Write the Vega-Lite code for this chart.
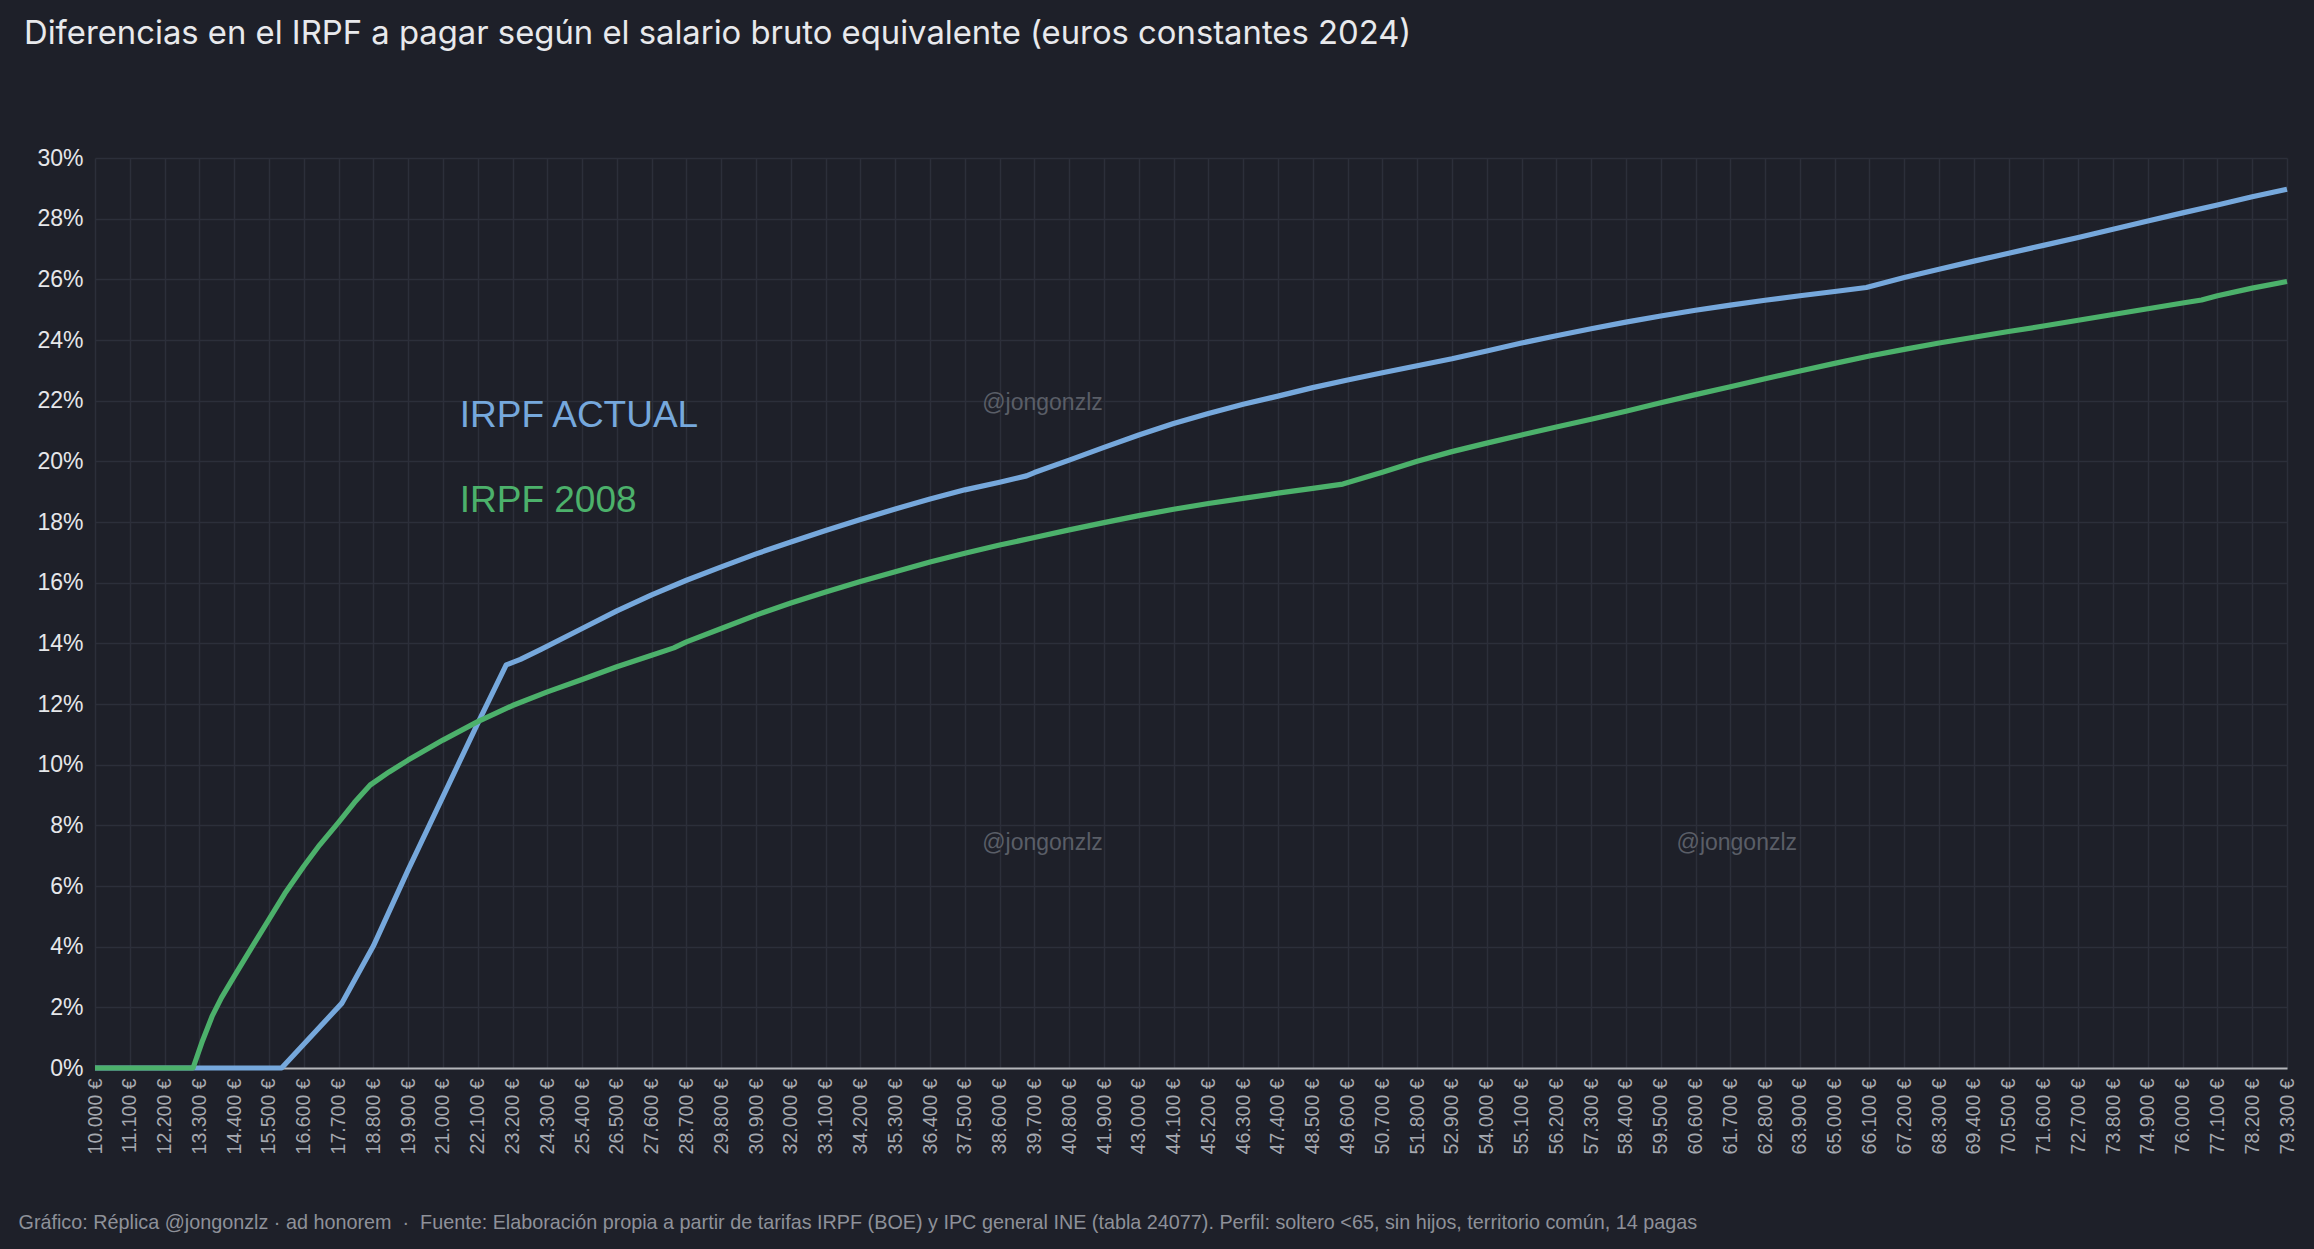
{
  "$schema": "https://vega.github.io/schema/vega-lite/v6.json",
  "width": 2192,
  "height": 910,
  "autosize": {"type": "none"},
  "padding": {"left": 95, "top": 158, "right": 27, "bottom": 181},
  "background": "#1e2029",
  "title": {
    "text": "Diferencias en el IRPF a pagar según el salario bruto equivalente (euros constantes 2024)",
    "anchor": "start",
    "frame": "group",
    "orient": "top",
    "dx": -71,
    "offset": 70,
    "baseline": "alphabetic",
    "font": "Inter",
    "fontSize": 32.8,
    "fontWeight": "normal",
    "color": "#e8e9ec"
  },
  "config": {
    "view": {"stroke": null},
    "axis": {"gridColor": "#2c2f3a", "gridWidth": 1.5, "ticks": false, "labelFont": "Liberation Sans", "titleFont": "Liberation Sans"}
  },
  "datasets": {
    "lines": [
      {"salario": 10000, "pct": 0, "serie": "IRPF ACTUAL"},
      {"salario": 15900, "pct": 0, "serie": "IRPF ACTUAL"},
      {"salario": 17800, "pct": 2.13, "serie": "IRPF ACTUAL"},
      {"salario": 18800, "pct": 4.02, "serie": "IRPF ACTUAL"},
      {"salario": 19900, "pct": 6.53, "serie": "IRPF ACTUAL"},
      {"salario": 21000, "pct": 8.95, "serie": "IRPF ACTUAL"},
      {"salario": 22100, "pct": 11.36, "serie": "IRPF ACTUAL"},
      {"salario": 23000, "pct": 13.29, "serie": "IRPF ACTUAL"},
      {"salario": 23450, "pct": 13.47, "serie": "IRPF ACTUAL"},
      {"salario": 24100, "pct": 13.8, "serie": "IRPF ACTUAL"},
      {"salario": 25400, "pct": 14.49, "serie": "IRPF ACTUAL"},
      {"salario": 26500, "pct": 15.07, "serie": "IRPF ACTUAL"},
      {"salario": 27600, "pct": 15.6, "serie": "IRPF ACTUAL"},
      {"salario": 28700, "pct": 16.08, "serie": "IRPF ACTUAL"},
      {"salario": 29800, "pct": 16.52, "serie": "IRPF ACTUAL"},
      {"salario": 30900, "pct": 16.95, "serie": "IRPF ACTUAL"},
      {"salario": 32000, "pct": 17.34, "serie": "IRPF ACTUAL"},
      {"salario": 33100, "pct": 17.72, "serie": "IRPF ACTUAL"},
      {"salario": 34200, "pct": 18.08, "serie": "IRPF ACTUAL"},
      {"salario": 35300, "pct": 18.43, "serie": "IRPF ACTUAL"},
      {"salario": 36400, "pct": 18.76, "serie": "IRPF ACTUAL"},
      {"salario": 37500, "pct": 19.06, "serie": "IRPF ACTUAL"},
      {"salario": 38600, "pct": 19.31, "serie": "IRPF ACTUAL"},
      {"salario": 39450, "pct": 19.52, "serie": "IRPF ACTUAL"},
      {"salario": 39700, "pct": 19.63, "serie": "IRPF ACTUAL"},
      {"salario": 40800, "pct": 20.04, "serie": "IRPF ACTUAL"},
      {"salario": 41900, "pct": 20.46, "serie": "IRPF ACTUAL"},
      {"salario": 43000, "pct": 20.87, "serie": "IRPF ACTUAL"},
      {"salario": 44100, "pct": 21.25, "serie": "IRPF ACTUAL"},
      {"salario": 45200, "pct": 21.58, "serie": "IRPF ACTUAL"},
      {"salario": 46300, "pct": 21.88, "serie": "IRPF ACTUAL"},
      {"salario": 47400, "pct": 22.15, "serie": "IRPF ACTUAL"},
      {"salario": 48500, "pct": 22.43, "serie": "IRPF ACTUAL"},
      {"salario": 49600, "pct": 22.68, "serie": "IRPF ACTUAL"},
      {"salario": 50700, "pct": 22.92, "serie": "IRPF ACTUAL"},
      {"salario": 51800, "pct": 23.15, "serie": "IRPF ACTUAL"},
      {"salario": 52900, "pct": 23.38, "serie": "IRPF ACTUAL"},
      {"salario": 54000, "pct": 23.64, "serie": "IRPF ACTUAL"},
      {"salario": 55100, "pct": 23.9, "serie": "IRPF ACTUAL"},
      {"salario": 56200, "pct": 24.14, "serie": "IRPF ACTUAL"},
      {"salario": 57300, "pct": 24.37, "serie": "IRPF ACTUAL"},
      {"salario": 58400, "pct": 24.59, "serie": "IRPF ACTUAL"},
      {"salario": 59500, "pct": 24.79, "serie": "IRPF ACTUAL"},
      {"salario": 60600, "pct": 24.98, "serie": "IRPF ACTUAL"},
      {"salario": 61700, "pct": 25.15, "serie": "IRPF ACTUAL"},
      {"salario": 62800, "pct": 25.31, "serie": "IRPF ACTUAL"},
      {"salario": 63900, "pct": 25.46, "serie": "IRPF ACTUAL"},
      {"salario": 65000, "pct": 25.6, "serie": "IRPF ACTUAL"},
      {"salario": 66000, "pct": 25.73, "serie": "IRPF ACTUAL"},
      {"salario": 67200, "pct": 26.06, "serie": "IRPF ACTUAL"},
      {"salario": 68300, "pct": 26.33, "serie": "IRPF ACTUAL"},
      {"salario": 69400, "pct": 26.6, "serie": "IRPF ACTUAL"},
      {"salario": 70500, "pct": 26.86, "serie": "IRPF ACTUAL"},
      {"salario": 71600, "pct": 27.12, "serie": "IRPF ACTUAL"},
      {"salario": 72700, "pct": 27.38, "serie": "IRPF ACTUAL"},
      {"salario": 73800, "pct": 27.65, "serie": "IRPF ACTUAL"},
      {"salario": 74900, "pct": 27.92, "serie": "IRPF ACTUAL"},
      {"salario": 76000, "pct": 28.19, "serie": "IRPF ACTUAL"},
      {"salario": 77100, "pct": 28.45, "serie": "IRPF ACTUAL"},
      {"salario": 78200, "pct": 28.72, "serie": "IRPF ACTUAL"},
      {"salario": 79300, "pct": 28.97, "serie": "IRPF ACTUAL"},
      {"salario": 10000, "pct": 0, "serie": "IRPF 2008"},
      {"salario": 13100, "pct": 0, "serie": "IRPF 2008"},
      {"salario": 13400, "pct": 0.9, "serie": "IRPF 2008"},
      {"salario": 13700, "pct": 1.7, "serie": "IRPF 2008"},
      {"salario": 14000, "pct": 2.32, "serie": "IRPF 2008"},
      {"salario": 14400, "pct": 3.02, "serie": "IRPF 2008"},
      {"salario": 15000, "pct": 4.05, "serie": "IRPF 2008"},
      {"salario": 15500, "pct": 4.9, "serie": "IRPF 2008"},
      {"salario": 16000, "pct": 5.75, "serie": "IRPF 2008"},
      {"salario": 16600, "pct": 6.65, "serie": "IRPF 2008"},
      {"salario": 17100, "pct": 7.35, "serie": "IRPF 2008"},
      {"salario": 17700, "pct": 8.1, "serie": "IRPF 2008"},
      {"salario": 18200, "pct": 8.75, "serie": "IRPF 2008"},
      {"salario": 18700, "pct": 9.33, "serie": "IRPF 2008"},
      {"salario": 19300, "pct": 9.76, "serie": "IRPF 2008"},
      {"salario": 19900, "pct": 10.15, "serie": "IRPF 2008"},
      {"salario": 21000, "pct": 10.81, "serie": "IRPF 2008"},
      {"salario": 22100, "pct": 11.42, "serie": "IRPF 2008"},
      {"salario": 23200, "pct": 11.95, "serie": "IRPF 2008"},
      {"salario": 24300, "pct": 12.4, "serie": "IRPF 2008"},
      {"salario": 25400, "pct": 12.81, "serie": "IRPF 2008"},
      {"salario": 26500, "pct": 13.23, "serie": "IRPF 2008"},
      {"salario": 27600, "pct": 13.61, "serie": "IRPF 2008"},
      {"salario": 28300, "pct": 13.85, "serie": "IRPF 2008"},
      {"salario": 28700, "pct": 14.05, "serie": "IRPF 2008"},
      {"salario": 29800, "pct": 14.49, "serie": "IRPF 2008"},
      {"salario": 30900, "pct": 14.93, "serie": "IRPF 2008"},
      {"salario": 32000, "pct": 15.33, "serie": "IRPF 2008"},
      {"salario": 33100, "pct": 15.69, "serie": "IRPF 2008"},
      {"salario": 34200, "pct": 16.04, "serie": "IRPF 2008"},
      {"salario": 35300, "pct": 16.36, "serie": "IRPF 2008"},
      {"salario": 36400, "pct": 16.68, "serie": "IRPF 2008"},
      {"salario": 37500, "pct": 16.97, "serie": "IRPF 2008"},
      {"salario": 38600, "pct": 17.24, "serie": "IRPF 2008"},
      {"salario": 39700, "pct": 17.49, "serie": "IRPF 2008"},
      {"salario": 40800, "pct": 17.74, "serie": "IRPF 2008"},
      {"salario": 41900, "pct": 17.98, "serie": "IRPF 2008"},
      {"salario": 43000, "pct": 18.21, "serie": "IRPF 2008"},
      {"salario": 44100, "pct": 18.42, "serie": "IRPF 2008"},
      {"salario": 45200, "pct": 18.61, "serie": "IRPF 2008"},
      {"salario": 46300, "pct": 18.78, "serie": "IRPF 2008"},
      {"salario": 47400, "pct": 18.95, "serie": "IRPF 2008"},
      {"salario": 48500, "pct": 19.11, "serie": "IRPF 2008"},
      {"salario": 49450, "pct": 19.25, "serie": "IRPF 2008"},
      {"salario": 50700, "pct": 19.64, "serie": "IRPF 2008"},
      {"salario": 51800, "pct": 20.0, "serie": "IRPF 2008"},
      {"salario": 52900, "pct": 20.32, "serie": "IRPF 2008"},
      {"salario": 54000, "pct": 20.6, "serie": "IRPF 2008"},
      {"salario": 55100, "pct": 20.87, "serie": "IRPF 2008"},
      {"salario": 56200, "pct": 21.13, "serie": "IRPF 2008"},
      {"salario": 57300, "pct": 21.39, "serie": "IRPF 2008"},
      {"salario": 58400, "pct": 21.65, "serie": "IRPF 2008"},
      {"salario": 59500, "pct": 21.93, "serie": "IRPF 2008"},
      {"salario": 60600, "pct": 22.2, "serie": "IRPF 2008"},
      {"salario": 61700, "pct": 22.46, "serie": "IRPF 2008"},
      {"salario": 62800, "pct": 22.72, "serie": "IRPF 2008"},
      {"salario": 63900, "pct": 22.98, "serie": "IRPF 2008"},
      {"salario": 65000, "pct": 23.23, "serie": "IRPF 2008"},
      {"salario": 66100, "pct": 23.47, "serie": "IRPF 2008"},
      {"salario": 67200, "pct": 23.69, "serie": "IRPF 2008"},
      {"salario": 68300, "pct": 23.9, "serie": "IRPF 2008"},
      {"salario": 69400, "pct": 24.09, "serie": "IRPF 2008"},
      {"salario": 70500, "pct": 24.28, "serie": "IRPF 2008"},
      {"salario": 71600, "pct": 24.46, "serie": "IRPF 2008"},
      {"salario": 72700, "pct": 24.65, "serie": "IRPF 2008"},
      {"salario": 73800, "pct": 24.84, "serie": "IRPF 2008"},
      {"salario": 74900, "pct": 25.03, "serie": "IRPF 2008"},
      {"salario": 76000, "pct": 25.22, "serie": "IRPF 2008"},
      {"salario": 76600, "pct": 25.32, "serie": "IRPF 2008"},
      {"salario": 77100, "pct": 25.46, "serie": "IRPF 2008"},
      {"salario": 78200, "pct": 25.71, "serie": "IRPF 2008"},
      {"salario": 79300, "pct": 25.93, "serie": "IRPF 2008"}
    ],
    "labels": [
      {"salario": 21530, "pct": 21.14, "serie": "IRPF ACTUAL", "texto": "IRPF ACTUAL"},
      {"salario": 21530, "pct": 18.34, "serie": "IRPF 2008", "texto": "IRPF 2008"}
    ],
    "marcas": [
      {"salario": 38050, "pct": 21.69, "texto": "@jongonzlz"},
      {"salario": 38050, "pct": 7.2, "texto": "@jongonzlz"},
      {"salario": 60000, "pct": 7.2, "texto": "@jongonzlz"}
    ]
  },
  "layer": [
    {
      "data": {"name": "marcas"},
      "mark": {"type": "text", "align": "left", "baseline": "alphabetic", "font": "Liberation Sans", "fontSize": 23, "color": "#5a5e67"},
      "encoding": {
        "x": {"field": "salario", "type": "quantitative"},
        "y": {"field": "pct", "type": "quantitative"},
        "text": {"field": "texto"}
      }
    },
    {
      "data": {"name": "lines"},
      "mark": {"type": "line", "strokeWidth": 5.2, "strokeJoin": "round", "strokeCap": "butt"},
      "encoding": {
        "x": {
          "field": "salario",
          "type": "quantitative",
          "scale": {"domain": [10000, 79300], "nice": false, "zero": false},
          "axis": {
            "title": "Gráfico: Réplica @jongonzlz · ad honorem \u00a0·\u00a0 Fuente: Elaboración propia a partir de tarifas IRPF (BOE) y IPC general INE (tabla 24077). Perfil: soltero <65, sin hijos, territorio común, 14 pagas",
            "titleFont": "Liberation Sans",
            "titleFontSize": 19.8,
            "titleFontWeight": "normal",
            "titleColor": "#8e9199",
            "titleAnchor": "start",
            "titleAlign": "left",
            "titleBaseline": "alphabetic",
            "titleX": -77,
            "titleY": 160,
            "tickCount": 200,
            "values": [10000, 11100, 12200, 13300, 14400, 15500, 16600, 17700, 18800, 19900, 21000, 22100, 23200, 24300, 25400, 26500, 27600, 28700, 29800, 30900, 32000, 33100, 34200, 35300, 36400, 37500, 38600, 39700, 40800, 41900, 43000, 44100, 45200, 46300, 47400, 48500, 49600, 50700, 51800, 52900, 54000, 55100, 56200, 57300, 58400, 59500, 60600, 61700, 62800, 63900, 65000, 66100, 67200, 68300, 69400, 70500, 71600, 72700, 73800, 74900, 76000, 77100, 78200, 79300],
            "labelExpr": "replace(format(datum.value, ','), ',', '.') + ' €'",
            "labelAngle": -90,
            "labelFontSize": 19.5,
            "labelColor": "#a6a9b0",
            "labelPadding": 10,
            "labelOverlap": false,
            "labelFlush": false,
            "domain": true,
            "domainColor": "#b4b6ba",
            "domainWidth": 2,
            "grid": true
          }
        },
        "y": {
          "field": "pct",
          "type": "quantitative",
          "scale": {"domain": [0, 30], "nice": false},
          "axis": {
            "title": null,
            "tickCount": 100,
            "values": [0, 2, 4, 6, 8, 10, 12, 14, 16, 18, 20, 22, 24, 26, 28, 30],
            "labelExpr": "datum.value + '%'",
            "labelFontSize": 23,
            "labelColor": "#e6e7ea",
            "labelPadding": 12,
            "domain": false,
            "grid": true
          }
        },
        "color": {
          "field": "serie",
          "type": "nominal",
          "scale": {"domain": ["IRPF ACTUAL", "IRPF 2008"], "range": ["#76a8dc", "#4cb16b"]},
          "legend": null
        },
        "detail": {"field": "serie"}
      }
    },
    {
      "data": {"name": "labels"},
      "mark": {"type": "text", "align": "left", "baseline": "alphabetic", "font": "Liberation Sans", "fontSize": 37},
      "encoding": {
        "x": {"field": "salario", "type": "quantitative"},
        "y": {"field": "pct", "type": "quantitative"},
        "text": {"field": "texto"},
        "color": {"field": "serie", "type": "nominal", "legend": null}
      }
    }
  ]
}
